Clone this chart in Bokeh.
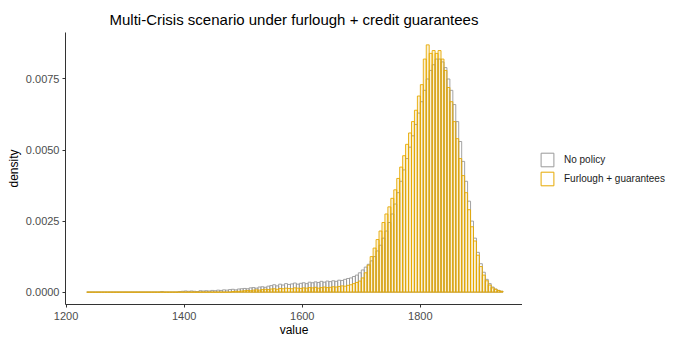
import numpy as np
from bokeh.plotting import figure
from bokeh.layouts import row
from bokeh.models import Legend, LegendItem, FixedTicker, PrintfTickFormatter, Range1d
from bokeh.embed import file_html
from bokeh.resources import INLINE

# ---- data (histogram densities, bins of width 5 starting at 1235) ----
bin_start = 1235
bin_width = 5

no_policy = [
    0, 0, 0, 0, 0, 0, 0, 0, 0, 0,
    0, 0, 0, 0, 0, 0, 0, 0, 0, 0,
    0, 0, 0, 0, 0, 0.00002, 0, 0, 0, 0,
    0, 0.00002, 0.00003, 0.00004, 0.00003, 0.00004, 0.00003, 0.00002, 0.00005, 0.00004,
    0.00005, 0.00004, 0.00006,
    0.00005, 0.00007, 0.00006, 0.00008, 0.00007, 0.00009, 0.00010, 0.00008, 0.00011, 0.00012,
    0.00013, 0.00012, 0.00015, 0.00016, 0.00014, 0.00018, 0.00019, 0.00017, 0.00021, 0.00023,
    0.00026, 0.00022, 0.00028, 0.00025, 0.00030, 0.00027, 0.00029, 0.00032, 0.00028, 0.00031,
    0.00033, 0.00030, 0.00035, 0.00033, 0.00036, 0.00034, 0.00038, 0.00035, 0.00039, 0.00037,
    0.00040, 0.00038, 0.00042, 0.00041, 0.00045, 0.00048, 0.00050, 0.00055, 0.00060, 0.00068,
    0.00078, 0.00088, 0.00098, 0.00110, 0.00125, 0.00145, 0.00165, 0.00190, 0.00215, 0.00245,
    0.00275, 0.0031, 0.0035, 0.0039, 0.0043, 0.0047, 0.0051, 0.0055, 0.0059, 0.0063,
    0.0067, 0.0071, 0.0075, 0.0078, 0.0080, 0.0082, 0.0082, 0.0081, 0.0079, 0.0075,
    0.0071, 0.0066, 0.0060, 0.0053, 0.0046, 0.0039, 0.0032, 0.0025, 0.0019, 0.0014,
    0.0010, 0.0007, 0.00045, 0.0003, 0.00018, 0.00011, 0.00006, 0.00003,
]

furlough = [
    0, 0, 0, 0, 0, 0, 0, 0, 0, 0,
    0, 0, 0, 0, 0, 0, 0, 0, 0, 0,
    0, 0, 0, 0, 0, 0, 0, 0, 0, 0,
    0, 0, 0, 0, 0, 0, 0, 0, 0, 0,
    0, 0, 0, 0, 0, 0, 0, 0, 0,
    0.00002, 0.00003, 0.00003, 0.00004,
    0.00005, 0.00006, 0.00005, 0.00007, 0.00008, 0.00007, 0.00009, 0.00010, 0.00009, 0.00011,
    0.00012, 0.00010, 0.00013, 0.00012, 0.00014, 0.00013, 0.00012, 0.00015, 0.00014, 0.00013,
    0.00015, 0.00014, 0.00016, 0.00015, 0.00017, 0.00014, 0.00016, 0.00018, 0.00016, 0.00017,
    0.00019, 0.00018, 0.00020, 0.00022, 0.00021, 0.00024, 0.00026, 0.00030, 0.00034, 0.00039,
    0.00050, 0.00068, 0.00095, 0.00125, 0.00155, 0.00185, 0.00215, 0.00245, 0.00275, 0.00300,
    0.0033, 0.0036, 0.0040, 0.0044, 0.0048, 0.0052, 0.0056, 0.0060, 0.0064, 0.0069,
    0.0073, 0.0082, 0.0087, 0.0084, 0.0085, 0.0084, 0.0085, 0.0082, 0.0078, 0.0072,
    0.0067, 0.0060, 0.0054, 0.0047, 0.0041, 0.0035, 0.0029, 0.0023, 0.0018, 0.0013,
    0.0009, 0.0006, 0.0004, 0.00025, 0.00015, 0.0001, 0.00006, 0.00003,
]

series_labels = ["No policy", "Furlough + guarantees"]
x_ticks = [1200, 1400, 1600, 1800]
y_ticks = [0.0, 0.0025, 0.005, 0.0075]

GRAY = "#999999"
GOLD = "#E6A900"
FONT = "Liberation Sans"
H = 339

n = len(no_policy)
left = bin_start + bin_width * np.arange(n)
right = left + bin_width
zeros = np.zeros(n)

p = figure(width=522, height=H, output_backend="svg", toolbar_location=None,
           x_range=Range1d(1199.0, 1973.0), y_range=Range1d(-0.000435, 0.009135),
           min_border_left=65, min_border_right=0, min_border_top=32, min_border_bottom=34,
           title="Multi-Crisis scenario under furlough + credit guarantees")

p.title.align = "center"
p.title.text_font = FONT
p.title.text_font_size = "15px"
p.title.text_font_style = "normal"
p.title.text_color = "#000000"
p.title.standoff = 10

p.grid.visible = False
p.outline_line_color = None
p.background_fill_color = "white"
p.border_fill_color = "white"

p.quad(left=left, right=right, bottom=zeros, top=no_policy,
       fill_color="white", fill_alpha=0.0, line_color=GRAY, line_width=0.9)
p.quad(left=left, right=right, bottom=zeros, top=furlough,
       fill_color=GOLD, fill_alpha=0.16, line_color=None)
p.quad(left=left, right=right, bottom=zeros, top=furlough,
       fill_color="white", fill_alpha=0.0, line_color=GOLD, line_width=0.9)

for ax in (p.xaxis, p.yaxis):
    ax.axis_line_color = "#333333"
    ax.axis_line_width = 1
    ax.major_tick_line_color = "#333333"
    ax.major_tick_in = 0
    ax.major_tick_out = 3
    ax.minor_tick_line_color = None
    ax.major_label_text_font = FONT
    ax.major_label_text_font_size = "11px"
    ax.major_label_text_color = "#4D4D4D"
    ax.axis_label_text_font = FONT
    ax.axis_label_text_font_size = "12px"
    ax.axis_label_text_font_style = "normal"
    ax.axis_label_text_color = "#000000"

p.xaxis.ticker = FixedTicker(ticks=x_ticks)
p.yaxis.ticker = FixedTicker(ticks=y_ticks)
p.yaxis.formatter = PrintfTickFormatter(format="%.4f")
p.xaxis.axis_label = "value"
p.yaxis.axis_label = "density"
p.xaxis.major_label_standoff = 4
p.xaxis.axis_label_standoff = 0
p.yaxis.major_label_standoff = 3
p.yaxis.axis_label_standoff = 2

# ---- legend panel (separate figure on the right) ----
q = figure(width=150, height=H, output_backend="svg", toolbar_location=None,
           x_range=Range1d(0, 1), y_range=Range1d(0, 1),
           min_border_left=0, min_border_right=0, min_border_top=0, min_border_bottom=0)
q.axis.visible = False
q.grid.visible = False
q.outline_line_color = None
q.background_fill_color = "white"
q.border_fill_color = "white"
k_np = q.quad(left=left, right=right, bottom=zeros, top=no_policy,
              fill_color="white", fill_alpha=0.0, line_color=GRAY, line_width=1)
k_fg = q.quad(left=left, right=right, bottom=zeros, top=furlough,
              fill_color="white", fill_alpha=0.0, line_color=GOLD, line_width=1)
legend = Legend(items=[LegendItem(label=series_labels[0], renderers=[k_np]),
                       LegendItem(label=series_labels[1], renderers=[k_fg])],
                location=(17, 117), padding=0, margin=0, spacing=2,
                glyph_width=16, glyph_height=17, label_standoff=9,
                label_text_font=FONT, label_text_font_size="10px", label_text_color="#1a1a1a",
                border_line_alpha=0, background_fill_alpha=0)
q.add_layout(legend)

layout = row(p, q)
open("out.html", "w").write(file_html(layout, INLINE))
